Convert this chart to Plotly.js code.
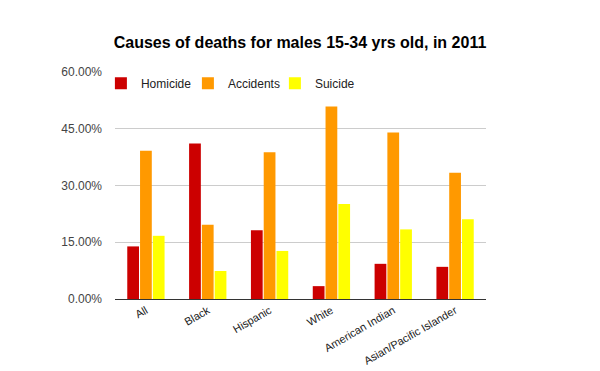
<!DOCTYPE html>
<html><head><meta charset="utf-8">
<script src="https://cdn.plot.ly/plotly-3.0.1.min.js"></script>
<style>html,body{margin:0;padding:0;background:#fff}#chart{width:600px;height:371px}</style>
</head><body><div id="chart"></div>
<script>
const categories = ["All", "Black", "Hispanic", "White", "American Indian", "Asian/Pacific Islander"];
const homicide = [0.139, 0.411, 0.182, 0.034, 0.093, 0.085];
const accidents = [0.392, 0.196, 0.388, 0.509, 0.440, 0.334];
const suicide = [0.167, 0.074, 0.127, 0.251, 0.184, 0.211];
const yTicks = [0, 0.15, 0.30, 0.45, 0.60];

const mk = (name, y, color) => ({type:'bar', name, x:categories, y, marker:{color}, hoverinfo:'none'});
const data = [
  mk('Homicide', homicide, '#cc0000'),
  mk('Accidents', accidents, '#ff9900'),
  mk('Suicide', suicide, '#ffff00')
];
const layout = {
  width:600, height:371,
  margin:{l:115, r:114, t:72, b:72},
  paper_bgcolor:'#fff', plot_bgcolor:'#fff',
  font:{family:'Arial, Liberation Sans, sans-serif', color:'#444', size:12},
  title:{text:'<b>Causes of deaths for males 15-34 yrs old, in 2011</b>', x:0.5, xanchor:'center', y:0.885, yanchor:'middle', yref:'container',
    font:{family:'Arial, Liberation Sans, sans-serif', size:16, color:'#000'}},
  barmode:'group', bargap:0.38, bargroupgap:0.08,
  xaxis:{tickangle:-30, tickfont:{size:11, color:'#222'}, showline:true, linecolor:'#333', linewidth:1, ticks:'', showgrid:false, zeroline:false, fixedrange:true},
  yaxis:{range:[0,0.6], tickvals:yTicks, tickformat:'.2%', showgrid:true, gridcolor:'#ccc', zeroline:false, showline:false, ticks:'', tickfont:{size:12, color:'#444'}, ticklabelstandoff:12, fixedrange:true},
  legend:{orientation:'h', x:-0.038, xanchor:'left', y:0.95, yanchor:'middle', font:{size:12, color:'#222'}, bgcolor:'rgba(0,0,0,0)', itemwidth:30, entrywidth:42, entrywidthmode:'pixels', traceorder:'normal'},
  showlegend:true
};
Plotly.newPlot('chart', data, layout, {displayModeBar:false, staticPlot:true});
</script></body></html>
